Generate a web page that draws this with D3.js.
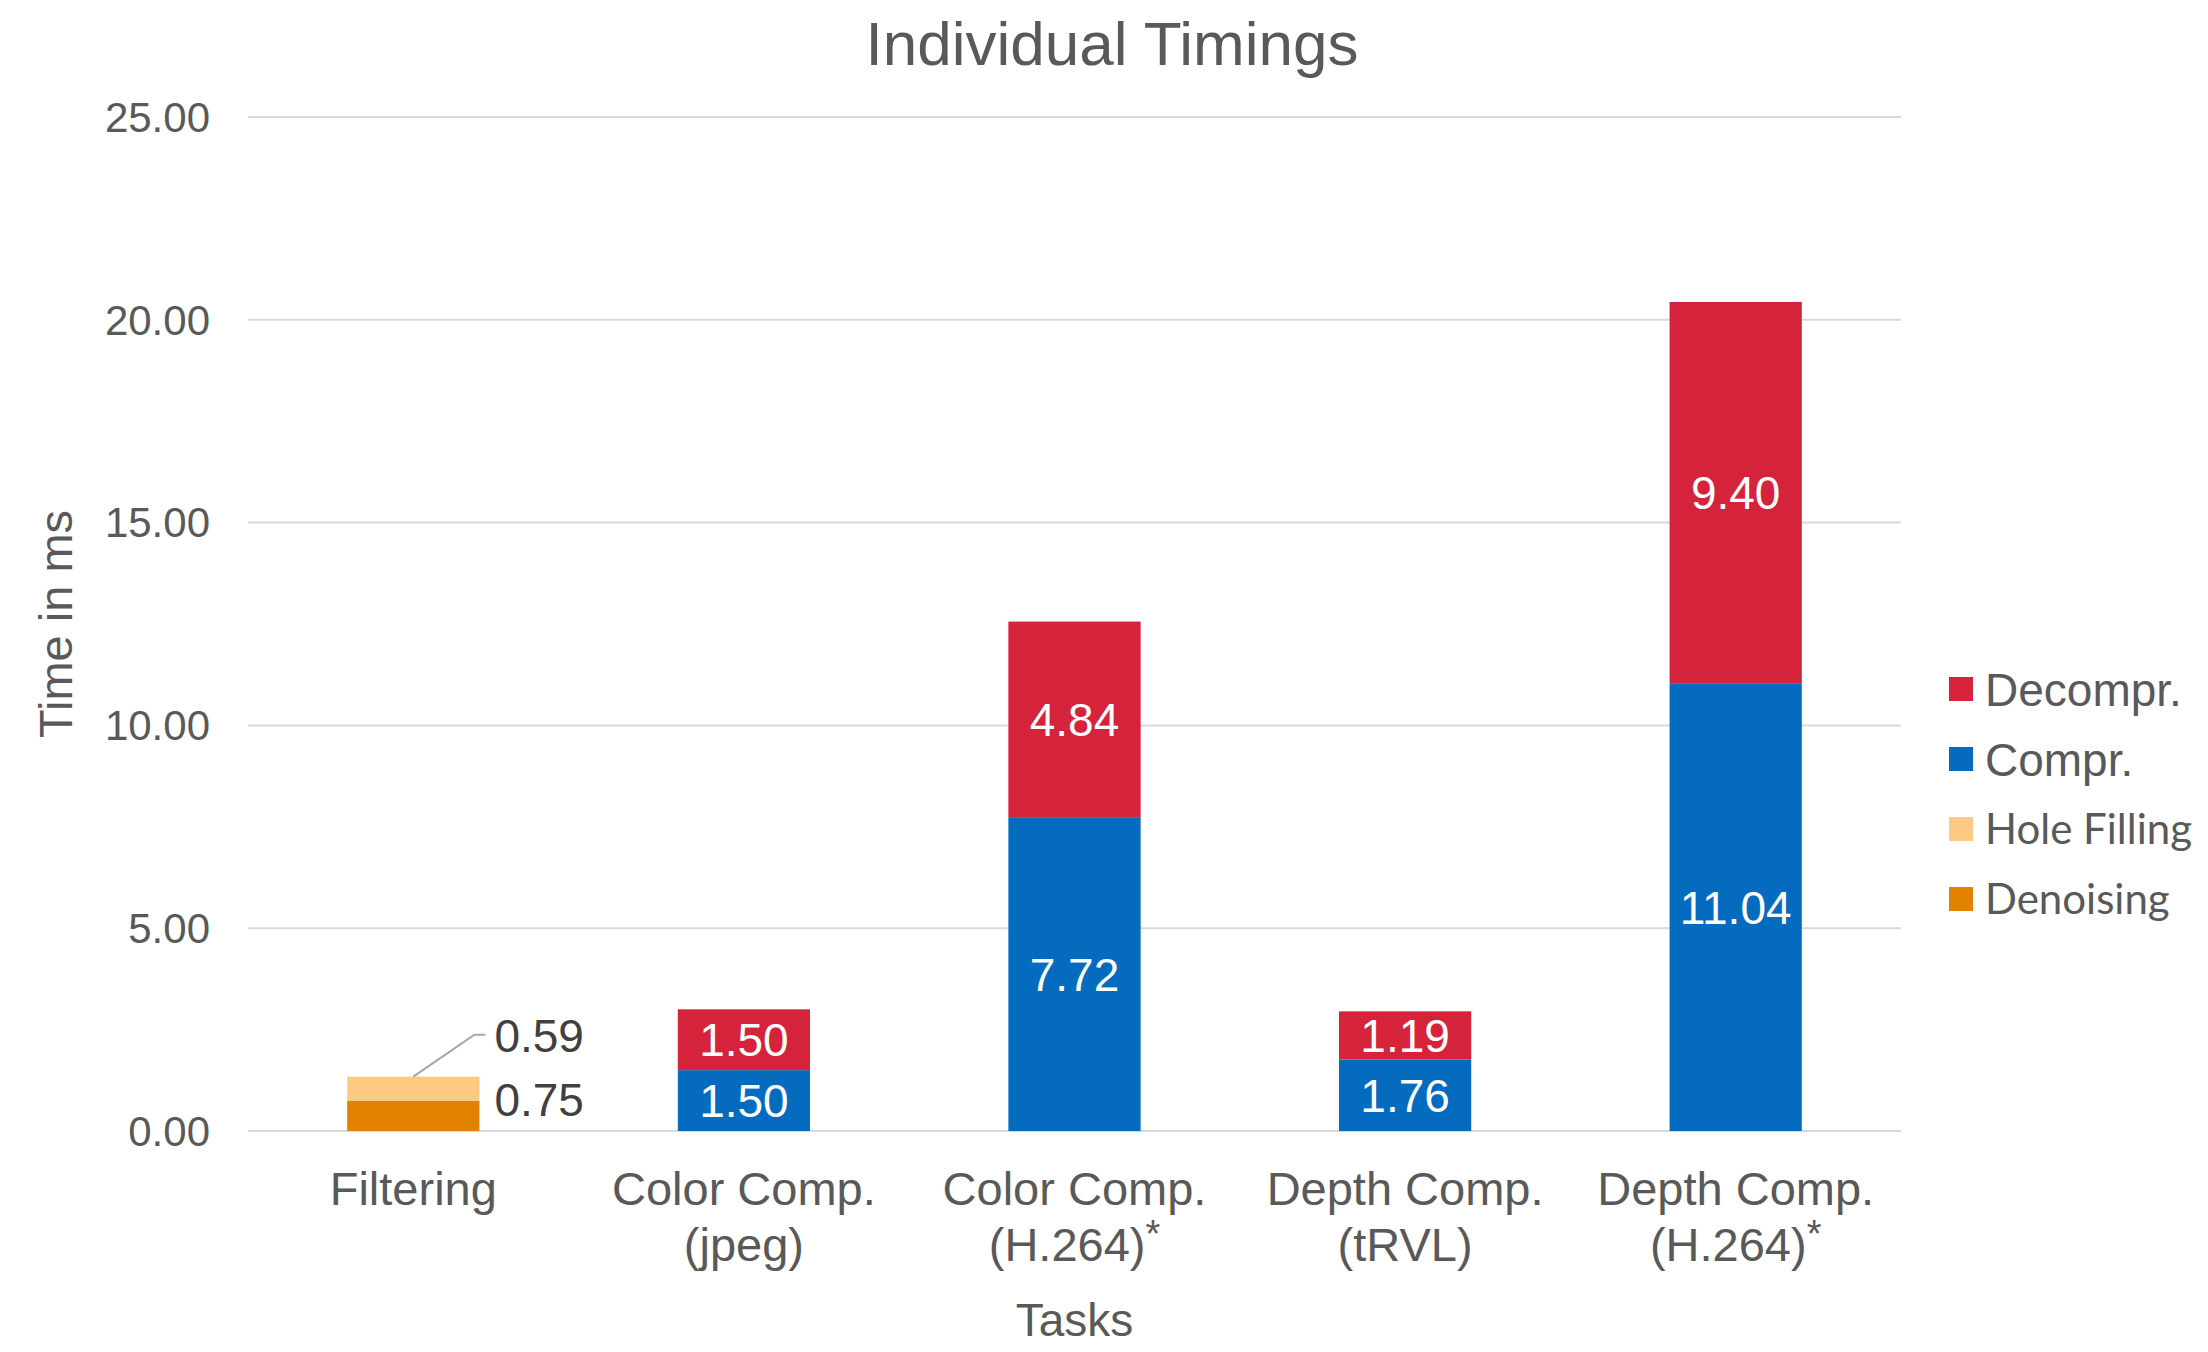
<!DOCTYPE html>
<html><head><meta charset="utf-8">
<script src="https://cdn.jsdelivr.net/npm/d3@7/dist/d3.min.js"></script>
<style>
html,body{margin:0;padding:0;background:#fff;}
svg{display:block;}
</style></head>
<body>
<svg id="chart" width="2208" height="1352"></svg>
<script>
const categories = [["Filtering"], ["Color Comp.", "(jpeg)"], ["Color Comp.", "(H.264)*"], ["Depth Comp.", "(tRVL)"], ["Depth Comp.", "(H.264)*"]];
const seriesNames = ["Denoising", "Hole Filling", "Compr.", "Decompr."];
const denoising   = [0.75, 0, 0, 0, 0];
const holeFilling = [0.59, 0, 0, 0, 0];
const compr       = [0, 1.50, 7.72, 1.76, 11.04];
const decompr     = [0, 1.50, 4.84, 1.19, 9.40];
const yTicks = [0, 5, 10, 15, 20, 25];
const legendOrder = ["Decompr.", "Compr.", "Hole Filling", "Denoising"];
const colors = {"Denoising": "#E38200", "Hole Filling": "#FECA83", "Compr.": "#056BBF", "Decompr.": "#D6233C"};

const svg = d3.select("#chart");
const margin = {left: 248, right: 2208 - 1901, top: 117, bottom: 1352 - 1131};
const W = 2208, H = 1352;
const x = d3.scaleBand().domain(d3.range(categories.length)).range([margin.left, W - margin.right]).paddingInner(0.6).paddingOuter(0.3);
const y = d3.scaleLinear().domain([0, 25]).range([H - margin.bottom, margin.top]);

const textColor = "#595959";
const font = "'Liberation Sans', Arial, sans-serif";

// gridlines
svg.append("g").selectAll("line").data(yTicks).join("line")
  .attr("x1", margin.left).attr("x2", W - margin.right)
  .attr("y1", d => y(d)).attr("y2", d => y(d))
  .attr("stroke", "#d9d9d9").attr("stroke-width", 2);

// y tick labels
svg.append("g").selectAll("text").data(yTicks).join("text")
  .attr("x", 210).attr("y", d => y(d)).attr("dy", "0.35em")
  .attr("text-anchor", "end").attr("font-family", font).attr("font-size", 42)
  .attr("fill", textColor).text(d => d3.format(".2f")(d));

// stacked data
const table = categories.map((c, i) => ({
  i, "Denoising": denoising[i], "Hole Filling": holeFilling[i], "Compr.": compr[i], "Decompr.": decompr[i]
}));
const stack = d3.stack().keys(seriesNames)(table);

const barsG = svg.append("g");
stack.forEach(layer => {
  barsG.append("g").selectAll("rect").data(layer.filter(d => d[1] - d[0] > 0)).join("rect")
    .attr("x", d => x(d.data.i)).attr("width", x.bandwidth())
    .attr("y", d => y(d[1])).attr("height", d => y(d[0]) - y(d[1]))
    .attr("fill", colors[layer.key]);
});

// inside labels (Compr./Decompr.)
stack.filter(l => l.key === "Compr." || l.key === "Decompr.").forEach(layer => {
  svg.append("g").selectAll("text").data(layer.filter(d => d[1] - d[0] > 0)).join("text")
    .attr("x", d => x(d.data.i) + x.bandwidth() / 2)
    .attr("y", d => (y(d[0]) + y(d[1])) / 2).attr("dy", "0.36em")
    .attr("text-anchor", "middle").attr("font-family", font).attr("font-size", 46)
    .attr("fill", "#ffffff").text(d => d3.format(".2f")(d[1] - d[0]));
});

// outside labels for Filtering
const fI = 0;
const fx = x(fI) + x.bandwidth();
const labG = svg.append("g");
labG.append("text").attr("x", fx + 15).attr("y", y(denoising[fI]) + 15)
  .attr("font-family", font).attr("font-size", 46).attr("fill", "#404040")
  .text(d3.format(".2f")(denoising[fI]));
const topF = denoising[fI] + holeFilling[fI];
const ly = y(topF) - 42;
labG.append("polyline")
  .attr("points", [[x(fI) + x.bandwidth() / 2, y(topF)], [fx - 5, ly], [fx + 6, ly]].map(p => p.join(",")).join(" "))
  .attr("fill", "none").attr("stroke", "#a6a6a6").attr("stroke-width", 2);
labG.append("text").attr("x", fx + 15).attr("y", ly + 17)
  .attr("font-family", font).attr("font-size", 46).attr("fill", "#404040")
  .text(d3.format(".2f")(holeFilling[fI]));

// x labels
const xl = svg.append("g");
categories.forEach((lines, i) => {
  lines.forEach((t, j) => {
    const tx = xl.append("text").attr("x", x(i) + x.bandwidth() / 2).attr("y", 1205 + j * 56)
      .attr("text-anchor", "middle").attr("font-family", font).attr("font-size", 47).attr("fill", textColor);
    if (t.endsWith("*")) {
      tx.append("tspan").text(t.slice(0, -1));
      tx.append("tspan").attr("dy", -14).attr("font-size", 38).text("*");
    } else tx.text(t);
  });
});

// axis titles
svg.append("text").attr("x", (margin.left + W - margin.right) / 2).attr("y", 1336)
  .attr("text-anchor", "middle").attr("font-family", font).attr("font-size", 46).attr("fill", textColor).text("Tasks");
svg.append("text").attr("transform", `translate(72,${(y(0) + y(25)) / 2}) rotate(-90)`)
  .attr("text-anchor", "middle").attr("font-family", font).attr("font-size", 47).attr("fill", textColor).text("Time in ms");

// title
svg.append("text").attr("x", 1112).attr("y", 65).attr("text-anchor", "middle")
  .attr("font-family", font).attr("font-size", 62).attr("fill", textColor).text("Individual Timings");

// legend
const lg = svg.append("g");
legendOrder.forEach((k, i) => {
  const cy = 689 + i * 70;
  lg.append("rect").attr("x", 1949).attr("y", cy - 12).attr("width", 24).attr("height", 24).attr("fill", colors[k]);
  const calibri = (k === "Hole Filling" || k === "Denoising");
  lg.append("text").attr("x", 1985).attr("y", cy).attr("dy", "0.36em")
    .attr("font-family", calibri ? "Lato, 'Open Sans', sans-serif" : font)
    .attr("font-size", calibri ? 42 : 46).attr("fill", textColor).text(k);
});
</script>
</body></html>
